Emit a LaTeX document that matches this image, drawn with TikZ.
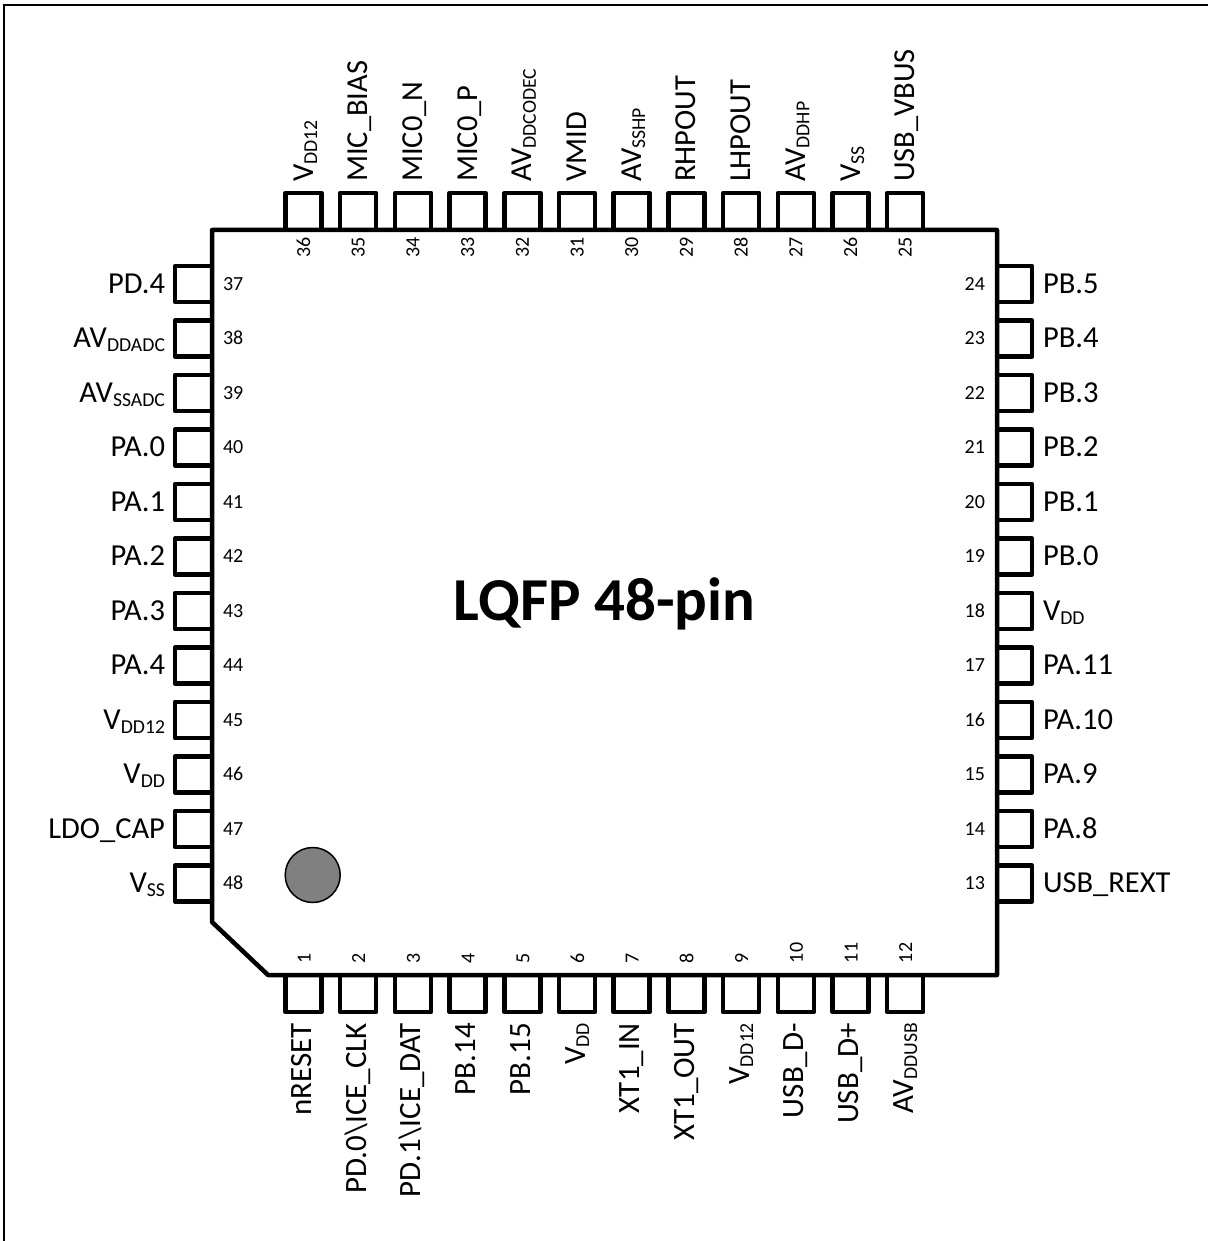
\documentclass[tikz,border=0pt]{standalone}
\usepackage{fontspec}
\setmainfont{Carlito}
\newcommand{\lowtxt}[1]{\raisebox{-4pt}{\fontsize{19.7}{22}\selectfont #1}}
\tikzset{
  x=1pt,y=-1pt,
  frameline/.style={line width=2.5pt,draw=black},
  bodyline/.style={line width=4.5pt,draw=black,line join=round},
  pinline/.style={line width=4.5pt,draw=black,line join=round},
  lab/.style={inner sep=0pt,outer sep=0pt,font=\fontsize{30.5}{36}\selectfont},
  vlab/.style={inner sep=0pt,outer sep=0pt,rotate=90,font=\fontsize{31}{36}\selectfont},
  tlab/.style={inner sep=0pt,outer sep=0pt,rotate=90,font=\fontsize{30.5}{36}\selectfont},
  num/.style={inner sep=0pt,outer sep=0pt,font=\fontsize{20}{24}\selectfont},
}
\begin{document}
\begin{tikzpicture}
\useasboundingbox (0,0) rectangle (1207,1241);
\draw[frameline] (4,1245) -- (4,5) -- (1211,5);
% top pins
\foreach \n/\t in {36/{V\lowtxt{DD12}},35/{MIC\_BIAS},34/{MIC0\_N},33/{MIC0\_P},32/{AV\lowtxt{DDCODEC}},31/{VMID},30/{AV\lowtxt{SSHP}},29/{RHPOUT},28/{LHPOUT},27/{AV\lowtxt{DDHP}},26/{V\lowtxt{SS}},25/{USB\_VBUS}}{
  \pgfmathsetmacro\c{303.5+(36-\n)*54.7}
  \draw[pinline] (\c-18,230) -- (\c-18,193) -- (\c+18,193) -- (\c+18,230);
  \node[tlab,anchor=base west] (lbl\n) at (\c+9.5,182) {\t};
  \node[num,rotate=90,anchor=base west] (num\n) at (\c+6.5,258) {\n};
}
% bottom pins
\foreach \n/\t in {1/{nRESET},2/{PD.0\textbackslash ICE\_CLK},3/{PD.1\textbackslash ICE\_DAT},4/{PB.14},5/{PB.15},6/{V\lowtxt{DD}},7/{XT1\_IN},8/{XT1\_OUT},9/{V\lowtxt{DD12}},10/{USB\_D-},11/{USB\_D+},12/{AV\lowtxt{DDUSB}}}{
  \pgfmathsetmacro\c{303.5+(\n-1)*54.7}
  \draw[pinline] (\c-18,975) -- (\c-18,1012) -- (\c+18,1012) -- (\c+18,975);
  \node[vlab,anchor=base east] (lbl\n) at (\c+8,1023) {\t};
  \node[num,rotate=90,anchor=base west] (num\n) at (\c+7,963) {\n};
}
% left pins
\foreach \n/\t in {37/{PD.4},38/{AV\lowtxt{DDADC}},39/{AV\lowtxt{SSADC}},40/{PA.0},41/{PA.1},42/{PA.2},43/{PA.3},44/{PA.4},45/{V\lowtxt{DD12}},46/{V\lowtxt{DD}},47/{LDO\_CAP},48/{V\lowtxt{SS}}}{
  \pgfmathsetmacro\c{284+(\n-37)*54.5}
  \draw[pinline] (212,\c-18) -- (175,\c-18) -- (175,\c+18) -- (212,\c+18);
  \node[lab,anchor=base east] (lbl\n) at (165,\c+9) {\t};
  \node[num,anchor=base west] (num\n) at (223,\c+6) {\n};
}
% right pins
\foreach \n/\t in {24/{PB.5},23/{PB.4},22/{PB.3},21/{PB.2},20/{PB.1},19/{PB.0},18/{V\lowtxt{DD}},17/{PA.11},16/{PA.10},15/{PA.9},14/{PA.8},13/{USB\_REXT}}{
  \pgfmathsetmacro\c{284+(24-\n)*54.5}
  \draw[pinline] (997,\c-18) -- (1032,\c-18) -- (1032,\c+18) -- (997,\c+18);
  \node[lab,anchor=base west] (lbl\n) at (1043,\c+9) {\t};
  \node[num,anchor=base east] (num\n) at (985,\c+6) {\n};
}
\draw[bodyline] (212,230) -- (997,230) -- (997,975) -- (268,975) -- (212,922) -- cycle;
\node[circle,draw=black,line width=1.5pt,fill=black!50,minimum size=55pt,inner sep=0pt] (dot) at (312.7,875) {};
\node[inner sep=0pt,font=\fontsize{61}{70}\selectfont\bfseries,anchor=base] (title) at (604.5,620.5) {LQFP 48-pin};
\end{tikzpicture}
\end{document}
